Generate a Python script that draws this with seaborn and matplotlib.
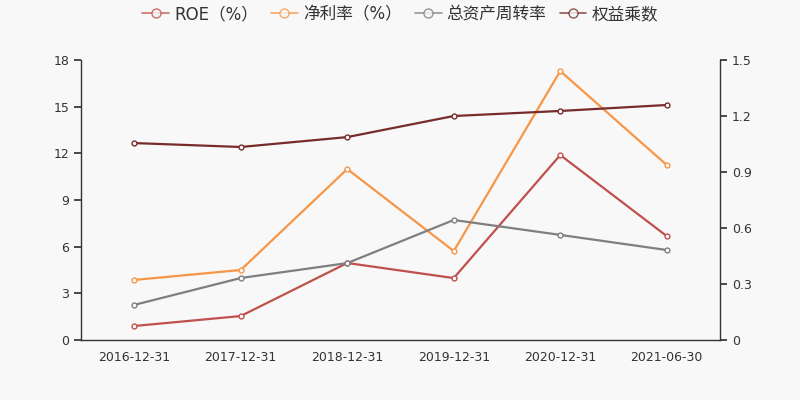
import numpy as np
import pandas as pd
import matplotlib
matplotlib.use('Agg')
import matplotlib.pyplot as plt
import seaborn as sns
from matplotlib.lines import Line2D

# 数据
dates = ['2016-12-31', '2017-12-31', '2018-12-31', '2019-12-31', '2020-12-31', '2021-06-30']
roe = [0.90, 1.54, 4.95, 3.98, 11.89, 6.68]
net_margin = [3.86, 4.50, 10.99, 5.72, 17.29, 11.25]
asset_turnover = [0.188, 0.332, 0.412, 0.643, 0.563, 0.482]
equity_multiplier = [1.055, 1.034, 1.087, 1.200, 1.227, 1.259]

bg = '#f8f8f8'
sns.set_theme(style='white')
plt.rcParams['font.family'] = ['DejaVu Sans', 'Noto Sans CJK SC']
plt.rcParams['axes.unicode_minus'] = False

df = pd.DataFrame({'date': dates, 'ROE（%）': roe, '净利率（%）': net_margin,
                   '总资产周转率': asset_turnover, '权益乘数': equity_multiplier})
df['x'] = np.arange(len(dates))

fig = plt.figure(figsize=(8, 4), dpi=100, facecolor=bg)
ax = fig.add_axes([81 / 800, 60 / 400, 639 / 800, 280 / 400])
ax.set_facecolor(bg)
ax2 = ax.twinx()

mk = dict(marker='o', markersize=3.5, markerfacecolor='white', markeredgewidth=1, linewidth=1.6)
colors = {'ROE（%）': '#c0504d', '净利率（%）': '#f79646', '总资产周转率': '#7f7f7f', '权益乘数': '#772c2a'}

# 左轴：ROE、净利率；右轴：周转率、权益乘数
for col in ['ROE（%）', '净利率（%）']:
    sns.lineplot(data=df, x='x', y=col, ax=ax, color=colors[col], markeredgecolor=colors[col], **mk)
for col in ['总资产周转率', '权益乘数']:
    sns.lineplot(data=df, x='x', y=col, ax=ax2, color=colors[col], markeredgecolor=colors[col], **mk)

handles = []
for col in colors:
    handles.append(Line2D([], [], color=colors[col], marker='o', markersize=6.5,
                          markerfacecolor=bg, markeredgecolor=colors[col],
                          linewidth=1.2, alpha=0.8, label=col))
fig.legend(handles=handles, loc='upper center', bbox_to_anchor=(0.5, 1.025), ncol=4,
           frameon=False, fontsize=12, handlelength=1.6, handletextpad=0.3, columnspacing=0.8,
           labelcolor='#333333')

ax.set_xlim(-0.5, len(dates) - 0.5)
ax.set_ylim(0, 18)
ax.set_yticks([0, 3, 6, 9, 12, 15, 18])
ax2.set_ylim(0, 1.5)
ax2.set_yticks([0, 0.3, 0.6, 0.9, 1.2, 1.5])
ax2.set_yticklabels(['0', '0.3', '0.6', '0.9', '1.2', '1.5'])

ax.set_xticks(np.arange(-0.5, len(dates), 1))
ax.set_xticklabels([])
ax.set_xticks(np.arange(len(dates)), minor=True)
ax.set_xticklabels(dates, minor=True)
ax.tick_params(axis='x', which='minor', length=0, pad=8, labelsize=9, colors='#333333')
ax.tick_params(axis='x', which='major', length=5, direction='out', color='#333333')
ax.tick_params(axis='y', length=5, labelsize=9, colors='#333333', left=True)
ax2.tick_params(axis='y', length=5, labelsize=9, colors='#333333', right=True)
ax.set_xlabel('')
ax.set_ylabel('')
ax2.set_ylabel('')

for a in (ax, ax2):
    a.spines['top'].set_visible(False)
    for s in ['left', 'right', 'bottom']:
        a.spines[s].set_color('#333333')
        a.spines[s].set_linewidth(1)
ax.spines['right'].set_visible(False)
ax2.spines['left'].set_visible(False)
ax2.spines['bottom'].set_visible(False)

fig.savefig('out.png', dpi=100, facecolor=bg)
